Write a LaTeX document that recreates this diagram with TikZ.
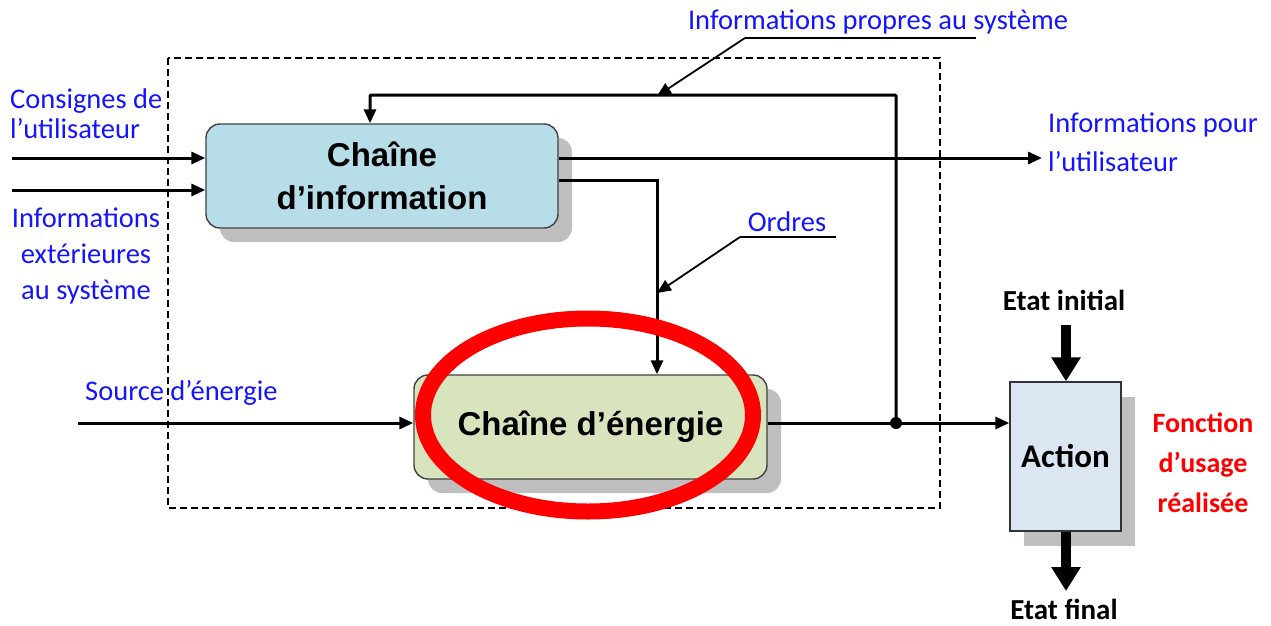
\documentclass[tikz,border=0pt]{standalone}
\usepackage{fontspec}
\setmainfont{Carlito}
\newfontfamily\arialf{Liberation Sans}
\usetikzlibrary{arrows.meta,shadows,shapes.geometric}
\definecolor{infofill}{RGB}{183,221,232}
\definecolor{enfill}{RGB}{215,228,189}
\definecolor{actfill}{RGB}{220,230,242}
\definecolor{shad}{RGB}{191,191,191}
\definecolor{bluetxt}{RGB}{20,20,255}
\definecolor{redtxt}{RGB}{255,0,0}
\begin{document}
\begin{tikzpicture}[x=1pt,y=-1pt,
  lbl/.style={text=bluetxt,font=\fontsize{28.5}{36}\selectfont,inner sep=0pt,align=left},
  blk/.style={font=\fontsize{29}{36}\selectfont\bfseries,inner sep=0pt},
  chain/.style={draw=black!75,line width=1.4pt,rounded corners=14pt,
    font=\arialf\bfseries\fontsize{33}{43}\selectfont,align=center,
    drop shadow={shadow xshift=14pt,shadow yshift=-14pt,fill=shad,opacity=1}},
  arr/.style={line width=3pt,-{Triangle[length=14pt,width=12pt]}},
  ln/.style={line width=3pt},
  thin/.style={line width=1.8pt},
  big/.style={line width=10pt,-{Triangle[length=24pt,width=28pt]}}
]
\useasboundingbox (0,0) rectangle (1271,626);
% system boundary
\draw[line width=1.5pt,dash pattern=on 7pt off 4pt] (168,58) rectangle (940,508);
% boxes
\node[chain,fill=infofill,minimum width=352pt,minimum height=104pt] (info) at (382,176) {Chaîne\\d’information};
\node[chain,fill=enfill,minimum width=353pt,minimum height=104pt] (ener) at (590.5,427) {Chaîne d’énergie};
\node[draw=black!80,line width=1.4pt,fill=actfill,minimum width=111pt,minimum height=149pt,inner sep=0pt,
  font=\fontsize{33}{40}\selectfont\bfseries,
  drop shadow={shadow xshift=14pt,shadow yshift=-15pt,fill=shad,opacity=1}] (act) at (1065.5,456.5) {Action};
% texts
\node[lbl,anchor=west,font=\fontsize{28.5}{30}\selectfont] (cons) at (10,114) {Consignes de\\l’utilisateur};
\node[lbl,align=center] (iext) at (86,256) {Informations\\extérieures\\au système};
\node[lbl,anchor=west] (src) at (85,393) {Source d’énergie};
\node[lbl,anchor=west,font=\fontsize{28.5}{39}\selectfont] (ipu) at (1048,142) {Informations pour\\l’utilisateur};
\node[lbl] (ord) at (787,222) {Ordres};
\node[lbl] (ips) at (878,22) {Informations propres au système};
\node[blk] (ei) at (1064,300) {Etat initial};
\node[blk] (ef) at (1064,609) {Etat final};
\node[blk,text=redtxt,align=center,font=\fontsize{28}{40}\selectfont\bfseries] (fus) at (1203,463) {Fonction\\d’usage\\réalisée};
% coordinates
\coordinate (c1) at (12,158);
\coordinate (c2) at (12,190);
\coordinate (c3) at (78,423);
\coordinate (j) at (896,423);
\coordinate (o1) at (1042,158);
\coordinate (bend) at (657,180);
\coordinate (top) at (896,95);
\coordinate (fb) at (370,95);
\coordinate (eis) at (1066,325);
\coordinate (efe) at (1066,591);
% arrows
\draw[arr] (c1) -- (c1 -| info.west);
\draw[arr] (c2) -- (c2 -| info.west);
\draw[arr] (c3) -- (c3 -| ener.west);
\draw[arr] (info.east |- o1) -- (o1);
\draw[arr] (info.east |- bend) -- (bend) -- (bend |- ener.north);
\draw[ln] (ener.east |- j) -- (j);
\draw[arr] (j) -- (j -| act.west);
\draw[arr,rounded corners=1pt] (j) -- (top) -- (fb) -- (fb |- info.north);
\fill (j) circle (6pt);
\draw[big] (eis) -- (eis |- act.north);
\draw[big] (act.south -| efe) -- (efe);
% leader lines
\coordinate (u1) at (745,38);
\coordinate (u2) at (976,38);
\coordinate (t1) at (657,96);
\draw[thin] (u2) -- (u1);
\draw[thin,-{Triangle[length=14pt,width=12pt]}] (u1) -- (t1);
\coordinate (v1) at (740,237);
\coordinate (v2) at (836,237);
\coordinate (t2) at (657,293);
\draw[thin] (v2) -- (v1);
\draw[thin,-{Triangle[length=14pt,width=12pt]}] (v1) -- (t2);
% red ellipse
\node[draw=red,line width=16pt,ellipse,minimum width=330pt,minimum height=193pt] (ring) at (588,415) {};
\end{tikzpicture}
\end{document}
